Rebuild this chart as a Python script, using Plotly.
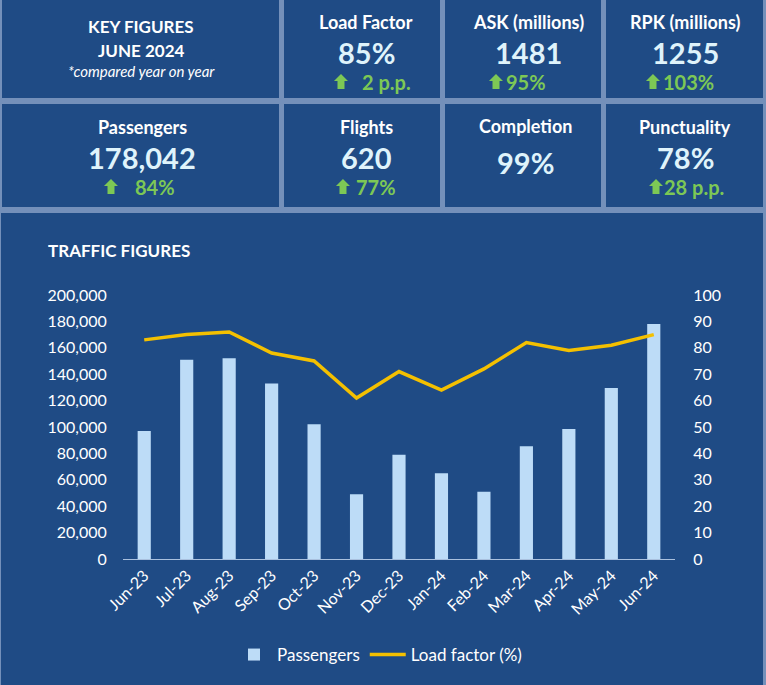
import plotly.graph_objects as go

W, H = 766, 685

months = ["Jun-23", "Jul-23", "Aug-23", "Sep-23", "Oct-23", "Nov-23", "Dec-23",
          "Jan-24", "Feb-24", "Mar-24", "Apr-24", "May-24", "Jun-24"]
passengers = [97000, 151000, 152000, 133000, 102000, 49000, 79000,
              65000, 51000, 85500, 98500, 129500, 178042]
load_factor = [83, 85, 86, 78, 75, 61, 71, 64, 72, 82, 79, 81, 85]

kpi_titles = ["Load Factor", "ASK (millions)", "RPK (millions)",
              "Passengers", "Flights", "Completion", "Punctuality"]
kpi_values = ["85%", "1481", "1255", "178,042", "620", "99%", "78%"]
kpi_changes = ["2 p.p.", "95%", "103%", "84%", "77%", "", "28 p.p."]

BOX = "#1f4b85"
GAP = "#7490ba"
WHITE = "#ffffff"
VAL = "#dff3fb"
GREEN = "#7dc855"
FONT = "Lato, Open Sans, sans-serif"


def fx(x):
    return x / W


def fy(y):
    return 1 - y / H


fig = go.Figure()
fig.add_trace(go.Bar(x=months, y=passengers, name="Passengers",
                     marker=dict(color="#bddcf7", line=dict(width=0)),
                     width=0.31, yaxis="y"))
fig.add_trace(go.Scatter(x=months, y=load_factor, name="Load factor (%)",
                         mode="lines", line=dict(color="#f4c000", width=3.5),
                         yaxis="y2"))

# boxes (pixel rects)
boxes = [(2, 0, 279, 98), (284, 0, 440, 98), (445, 0, 601, 98), (606, 0, 763, 98),
         (2, 104, 279, 207), (284, 104, 440, 207), (445, 104, 601, 207), (606, 104, 763, 207),
         (1, 213, 763, 690)]
shapes = []
for (x0, y0, x1, y1) in boxes:
    shapes.append(dict(type="rect", xref="paper", yref="paper",
                       x0=fx(x0), x1=fx(x1), y0=fy(y1), y1=fy(y0),
                       fillcolor=BOX, line=dict(width=0), layer="below"))


def arrow_icon(cx, cy):
    # block up-arrow icon, ~14px wide, ~15px tall
    pts = [(cx, cy - 8), (cx + 7, cy - 1), (cx + 3.5, cy - 1), (cx + 3.5, cy + 7),
           (cx - 3.5, cy + 7), (cx - 3.5, cy - 1), (cx - 7, cy - 1)]
    path = "M " + " L ".join(f"{fx(px):.5f},{fy(py):.5f}" for px, py in pts) + " Z"
    shapes.append(dict(type="path", xref="paper", yref="paper", path=path,
                       fillcolor=GREEN, line=dict(width=0)))


ann = []


def txt(x, y, s, size, color=WHITE, bold=True, italic=False, xanchor="center", family=FONT):
    t = s
    if bold:
        t = "<b>" + t + "</b>"
    if italic:
        t = "<i>" + t + "</i>"
    ann.append(dict(x=fx(x), y=fy(y), xref="paper", yref="paper", text=t,
                    showarrow=False, xanchor=xanchor, yanchor="middle",
                    font=dict(family=family, size=size, color=color)))


txt(141, 26, "KEY FIGURES", 17)
txt(141, 50, "JUNE 2024", 17)
txt(141, 71, "*compared year on year", 15, bold=False, italic=True)

# KPI positions: centre x, title y, value y, change y, arrow x, change-text left x
kpi_pos = [(366, 22, 52, 82, 341, 360), (528, 22, 52, 82, 496, 504),
           (685, 22, 52, 82, 653, 661), (142, 127, 157, 187, 111, 133),
           (366, 127, 157, 187, 343, 354), (525, 126, 163, None, None, None),
           (685, 127, 157, 187, 656, 662)]
for i, (cx, ty, vy, cy, ax, tx) in enumerate(kpi_pos):
    txt(cx, ty, kpi_titles[i], 18)
    txt(cx, vy, kpi_values[i], 29, color=VAL)
    if cy is not None and kpi_changes[i]:
        arrow_icon(ax, cy)
        txt(tx, cy, kpi_changes[i], 20, color=GREEN, xanchor="left")

txt(46, 250, "TRAFFIC FIGURES", 17, xanchor="left")

fig.update_layout(
    width=W, height=H, autosize=False,
    margin=dict(l=0, r=0, t=0, b=0),
    paper_bgcolor=GAP, plot_bgcolor=BOX,
    font=dict(family=FONT, color=WHITE, size=16),
    shapes=shapes, annotations=ann,
    xaxis=dict(domain=[fx(123), fx(675)], tickangle=-45, showgrid=False,
               showline=True, linecolor="#a9c0de", linewidth=1, ticks="",
               tickfont=dict(size=16, color=WHITE), automargin=False),
    yaxis=dict(domain=[fy(559), fy(295)], range=[0, 200000], dtick=20000,
               tickformat=",", showgrid=False, zeroline=False, showline=False,
               ticks="outside", ticklen=12, tickcolor="rgba(0,0,0,0)",
               tickfont=dict(size=16, color=WHITE), automargin=False),
    yaxis2=dict(overlaying="y", side="right", range=[0, 100], dtick=10,
                showgrid=False, zeroline=False, showline=False,
                ticks="outside", ticklen=14, tickcolor="rgba(0,0,0,0)",
                tickfont=dict(size=16, color=WHITE), automargin=False),
    legend=dict(orientation="h", x=fx(379), xanchor="center", y=fy(655),
                yanchor="middle", font=dict(size=17, color=WHITE),
                bgcolor="rgba(0,0,0,0)", itemwidth=36),
    showlegend=True,
)

fig.write_html("out.html", config={"displayModeBar": False},
               post_script="document.body.style.margin='0px';")
